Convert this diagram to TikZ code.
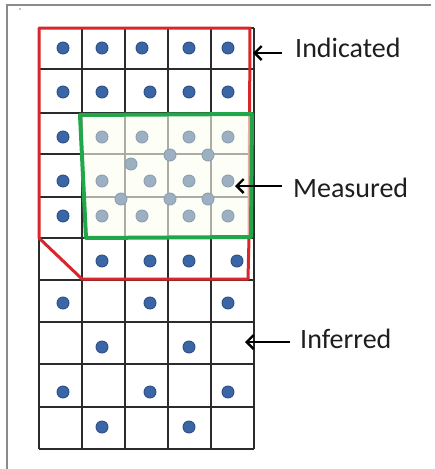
\documentclass[tikz,border=0pt]{standalone}
\usepackage{fontspec}
\setmainfont{Carlito}
\usetikzlibrary{arrows.meta}
\definecolor{gridc}{HTML}{2B2B2B}
\definecolor{redc}{HTML}{D9262B}
\definecolor{greenc}{HTML}{22A64A}
\definecolor{creamc}{HTML}{FBFDF0}
\definecolor{bluedot}{HTML}{3B66A6}
\definecolor{bluedotedge}{HTML}{2C4F86}
\definecolor{graydot}{HTML}{9DB0C1}
\definecolor{graydotedge}{HTML}{8CA0B2}
\definecolor{framec}{HTML}{8A8A8A}
\definecolor{textc}{HTML}{1E1E1E}
\begin{document}
\begin{tikzpicture}[x=1pt,y=-1pt,
  gridline/.style={gridc,line width=1.2pt},
  bdot/.style={fill=bluedot,draw=bluedotedge,line width=0.9pt},
  gdot/.style={fill=graydot,draw=graydotedge,line width=0.9pt},
  lbl/.style={font=\fontsize{28}{30}\selectfont,text=textc,inner sep=0pt,anchor=west},
  arr/.style={line width=2.4pt,-{Straight Barb[length=7pt,width=14pt,line width=2.4pt]}},
]
\useasboundingbox (0,0) rectangle (435,469);
% frame
\draw[framec,line width=1.5pt] (7,469) -- (7,5) -- (431,5);
\fill[black] (20,9) circle (0.7);
% grid
\foreach \x in {39,82,125,168,211,254}
  \draw[gridline] (\x,28) -- (\x,449);
\foreach \y in {28,69,113,154,197,238,280,322,364,407,449}
  \draw[gridline] (39,\y) -- (254,\y);
% blue dots
\foreach \x/\y in {63/48,102/48,142/48,189/48,228/48,
                   63/92,102/92,150/92,189/92,228/92,
                   63/137,63/181,63/216,
                   102/261,150/261,189/261,237/261,
                   63/303,150/303,228/303,
                   102/347,189/347,
                   63/392,150/392,228/392,
                   102/427,189/427}
  \draw[bdot] (\x,\y) circle (6);
% indicated (red) boundary
\draw[redc,line width=3pt,line join=round]
  (39,28) -- (250,28) -- (249,238) -- (248,279) -- (82,279) -- (39,238) -- cycle;
% measured (green) area
\fill[creamc,opacity=0.62] (80,115) -- (252,114) -- (251,237) -- (86,238) -- cycle;
\foreach \x/\y in {102/137,142/137,189/137,228/137,
                   170/155,208/155,131/164,
                   102/181,150/181,189/181,228/181,
                   121/199,170/199,208/199,
                   102/216,142/216,189/216,228/216}
  \draw[gdot] (\x,\y) circle (6);
\draw[greenc,line width=4pt,line join=round]
  (80,115) -- (252,114) -- (251,237) -- (86,238) -- cycle;
% labels
\node[lbl] (ind) at (295,48) {Indicated};
\node[lbl] (mea) at (293,188) {Measured};
\node[lbl] (inf) at (300,339) {Inferred};
\coordinate (tind) at (253,53);
\coordinate (tmea) at (235,186);
\coordinate (tinf) at (245,342);
\draw[arr,shorten <=13pt] (tind -| ind.west) -- (tind);
\draw[arr,shorten <=11pt] (tmea -| mea.west) -- (tmea);
\draw[arr,shorten <=10pt] (tinf -| inf.west) -- (tinf);
\end{tikzpicture}
\end{document}
